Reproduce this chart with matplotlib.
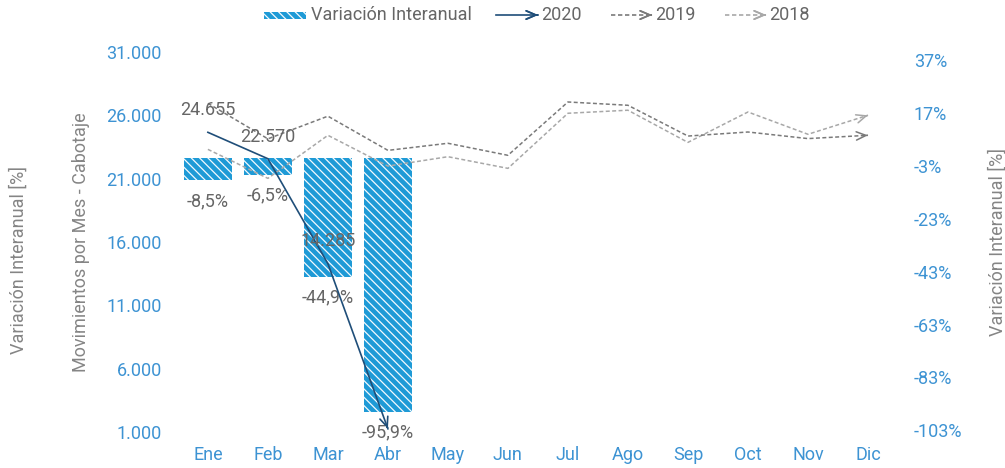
import matplotlib
matplotlib.use('Agg')
from matplotlib import pyplot as plt
from matplotlib.lines import Line2D
from matplotlib.patches import Rectangle

months = ['Ene', 'Feb', 'Mar', 'Abr', 'May', 'Jun', 'Jul', 'Ago', 'Sep', 'Oct', 'Nov', 'Dic']
var_pct = [-8.5, -6.5, -44.9, -95.9]
mov_2020 = [24655, 22570, 14285, 1250]
mov_2019 = [26945, 24140, 25930, 23230, 23790, 22840, 27050, 26790, 24360, 24680, 24160, 24420]
mov_2018 = [23310, 21020, 24420, 21990, 22730, 21810, 26160, 26400, 23860, 26260, 24500, 26000]
left_ticks = [1000, 6000, 11000, 16000, 21000, 26000, 31000]
right_ticks = [-103, -83, -63, -43, -23, -3, 17, 37]

plt.rcParams['font.family'] = ['Roboto', 'DejaVu Sans']
plt.rcParams['font.weight'] = 'normal'
plt.rcParams['hatch.linewidth'] = 0.9

blue_txt = '#3D93D3'
bar_col = '#1E9AD6'
gray_txt = '#666666'
lab_col = '#858585'
c20, c19, c18 = '#1F4E79', '#7A7A7A', '#A8A8A8'
fs = 13
hatch = '\\\\\\\\'

fig = plt.figure(figsize=(10.05, 4.68), dpi=100)
ax = fig.add_axes([0.177, 0.077, 0.7165, 0.812])
ax2 = ax.twinx()
x = list(range(len(months)))

# bars on the percentage axis (right side), lines on the movement axis (left side)
ax.yaxis.tick_right()
ax.yaxis.set_label_position('right')
ax2.yaxis.tick_left()
ax2.yaxis.set_label_position('left')

ax.bar(x[:len(var_pct)], var_pct, width=0.8, color=bar_col,
       edgecolor='#F4FAFE', linewidth=0, hatch=hatch)
ax.set_ylim(-103.6, 40)
ax.set_xlim(-0.5, 11.5)
ax.set_yticks(right_ticks)
ax.set_yticklabels(['%d%%' % t for t in right_ticks])
ax.set_xticks(x)
ax.set_xticklabels(months)
ax.tick_params(axis='y', length=0, pad=11.5, labelsize=fs, labelcolor=blue_txt)
ax.tick_params(axis='x', length=0, pad=10, labelsize=fs, labelcolor=blue_txt)
ax.set_ylabel('Variación Interanual [%]', fontsize=fs, color=lab_col)
ax.yaxis.set_label_coords(1.125, 0.5)

for xi, v in zip(x, var_pct):
    ax.annotate(('%.1f%%' % v).replace('.', ','), xy=(xi, v), xytext=(0, -15),
                textcoords='offset points', ha='center', va='center',
                fontsize=fs, color=gray_txt)

ax2.set_ylim(1000, 31000)
ax2.set_yticks(left_ticks)
ax2.set_yticklabels(['{:,}'.format(t).replace(',', '.') for t in left_ticks])
ax2.tick_params(axis='y', length=0, pad=11.5, labelsize=fs, labelcolor=blue_txt)
ax2.set_ylabel('Movimientos por Mes - Cabotaje', fontsize=fs, color=lab_col)
ax2.yaxis.set_label_coords(-0.122, 0.5)

dash = (0, (2.6, 1.6))
head = '->,head_length=0.7,head_width=0.3'


def arrow_line(axis, xs, ys, color, ls, lw):
    axis.plot(xs, ys, color=color, linestyle=ls, linewidth=lw)
    dx, dy = xs[-1] - xs[-2], ys[-1] - ys[-2]
    axis.annotate('', xy=(xs[-1], ys[-1]),
                  xytext=(xs[-1] - 0.01 * dx, ys[-1] - 0.01 * dy),
                  arrowprops=dict(arrowstyle=head, color=color, lw=lw,
                                  shrinkA=0, shrinkB=0, mutation_scale=10),
                  annotation_clip=False)


arrow_line(ax2, x, mov_2018, c18, dash, 1.1)
arrow_line(ax2, x, mov_2019, c19, dash, 1.1)
arrow_line(ax2, x[:len(mov_2020)], mov_2020, c20, '-', 1.2)

for xi, v in zip(x[:3], mov_2020[:3]):
    ax2.annotate('{:,}'.format(v).replace(',', '.'), xy=(xi, v), xytext=(0, 16),
                 textcoords='offset points', ha='center', va='center',
                 fontsize=fs, color=gray_txt)

for a in (ax, ax2):
    for s in a.spines.values():
        s.set_visible(False)

fig.text(19 / 1005, 1 - 260 / 468, 'Variación Interanual [%]', rotation=90,
         ha='center', va='center', fontsize=fs, color=lab_col)

# legend across the top
W, H = 1005.0, 468.0
ly = 1 - 15 / H
fig.patches.append(Rectangle((264 / W, 1 - 19 / H), 42 / W, 7 / H, transform=fig.transFigure,
                             facecolor=bar_col, edgecolor='#F4FAFE', linewidth=0,
                             hatch=hatch))
fig.text(311 / W, ly, 'Variación Interanual', ha='left', va='center', fontsize=fs, color=gray_txt)


def legend_arrow(x0, x1, color, ls, label):
    fig.add_artist(Line2D([x0 / W, x1 / W], [ly, ly], color=color, linestyle=ls,
                          linewidth=1.2, transform=fig.transFigure))
    fig.add_artist(plt.annotate('', xy=(x1 / W, ly), xytext=(x1 / W - 0.001, ly),
                                xycoords='figure fraction', textcoords='figure fraction',
                                arrowprops=dict(arrowstyle=head, color=color, lw=1.2,
                                                shrinkA=0, shrinkB=0, mutation_scale=10)))
    fig.text((x1 + 3) / W, ly, label, ha='left', va='center', fontsize=fs, color=gray_txt)


legend_arrow(496, 538, c20, '-', '2020')
legend_arrow(611, 652, c19, dash, '2019')
legend_arrow(725, 766, c18, dash, '2018')

fig.savefig('out.png', dpi=100)
